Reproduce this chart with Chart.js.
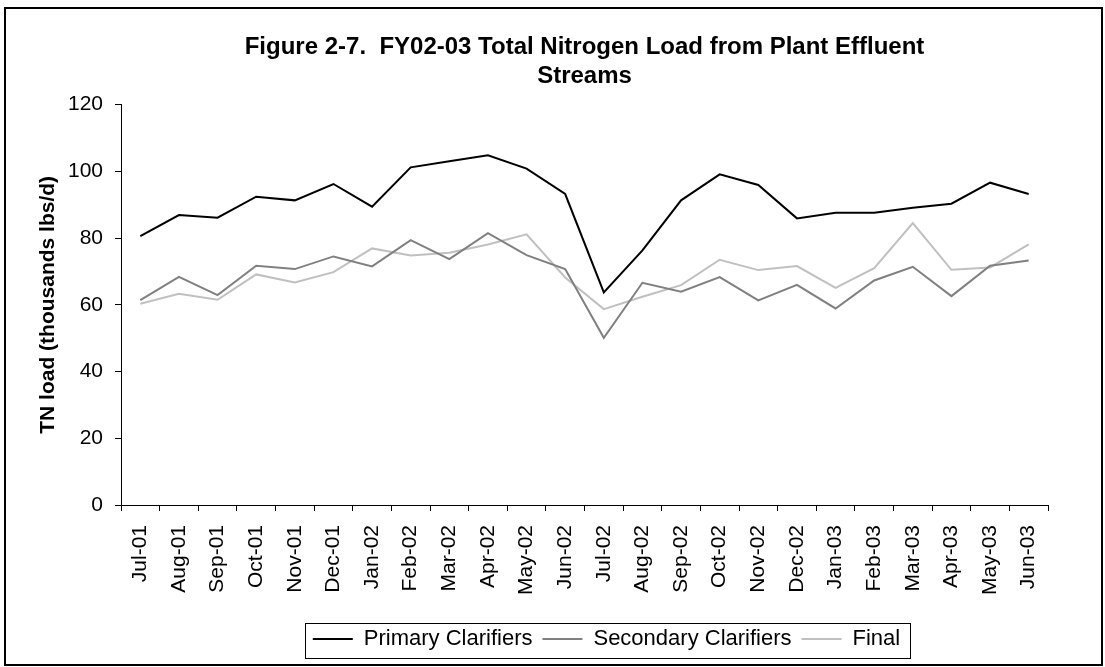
<!DOCTYPE html>
<html>
<head>
<meta charset="utf-8">
<script src="https://cdn.jsdelivr.net/npm/chart.js@4"></script>
<style>
    html, body { margin: 0; padding: 0; background: #fff; }
    #wrap { position: relative; width: 1105px; height: 667px; }
</style>
</head>
<body>
<div id="wrap"><canvas id="chartTN"></canvas></div>
<script>
// Dane — miesiące FY02-03 i obciążenie TN (tys. lbs/d)
const months = ['Jul-01', 'Aug-01', 'Sep-01', 'Oct-01', 'Nov-01', 'Dec-01', 'Jan-02', 'Feb-02', 'Mar-02', 'Apr-02', 'May-02', 'Jun-02',
    'Jul-02', 'Aug-02', 'Sep-02', 'Oct-02', 'Nov-02', 'Dec-02', 'Jan-03', 'Feb-03', 'Mar-03', 'Apr-03', 'May-03', 'Jun-03'];
const primary = [80.6, 86.9, 86.1, 92.4, 91.3, 96.2, 89.4, 101.2, 103.0, 104.8, 100.8, 93.2,
    63.7, 76.3, 91.3, 99.1, 95.9, 85.9, 87.6, 87.6, 89.1, 90.3, 96.6, 93.2];
const secondary = [61.4, 68.4, 62.9, 71.7, 70.7, 74.5, 71.5, 79.4, 73.7, 81.5, 74.9, 70.7,
    50.1, 66.6, 63.9, 68.3, 61.3, 66.0, 58.9, 67.3, 71.4, 62.6, 71.7, 73.3];
const final = [60.3, 63.3, 61.5, 69.1, 66.7, 69.8, 76.9, 74.8, 75.6, 78.1, 81.1, 68.2,
    58.7, 62.4, 65.9, 73.5, 70.4, 71.6, 65.1, 71.0, 84.5, 70.5, 71.2, 78.1];
const yTicks = [0, 20, 40, 60, 80, 100, 120];

const FONT = "'Liberation Sans', Arial, sans-serif";

// Ramka wokół całego wykresu + ramka legendy
const framePlugin = {
    id: 'frame',
    afterLayout(chart) {
        // legenda w oryginale jest lekko przesunięta w prawo
        chart.legend.left += 22;
        chart.legend.right += 22;
    },
    afterDraw(chart) {
        const ctx = chart.ctx;
        ctx.save();
        ctx.strokeStyle = '#000';
        ctx.lineWidth = 2;
        ctx.strokeRect(5, 8, 1097, 657);

        const boxes = chart.legend.legendHitBoxes;
        if (boxes && boxes.length) {
            const first = boxes[0], last = boxes[boxes.length - 1];
            const cy = first.top + first.height / 2;
            ctx.lineWidth = 1;
            ctx.strokeStyle = '#000';
            ctx.strokeRect(Math.round(first.left - 8) + 0.5, Math.round(cy - 16) + 0.5,
                Math.round(last.left + last.width - first.left + 18), 35);
        }
        ctx.restore();
    }
};

new Chart(document.getElementById('chartTN'), {
    type: 'line',
    data: {
        labels: months,
        datasets: [
            { label: 'Primary Clarifiers', data: primary, borderColor: '#000000', backgroundColor: '#000000', borderWidth: 2 },
            { label: 'Secondary Clarifiers', data: secondary, borderColor: '#808080', backgroundColor: '#808080', borderWidth: 2 },
            { label: 'Final', data: final, borderColor: '#c0c0c0', backgroundColor: '#c0c0c0', borderWidth: 2 }
        ]
    },
    options: {
        responsive: true,
        maintainAspectRatio: false,
        animation: false,
        elements: { point: { radius: 0 }, line: { tension: 0 } },
        layout: { padding: { left: 20, right: 57, top: 10, bottom: 7 } },
        plugins: {
            title: {
                display: true,
                fullSize: false,
                text: ['Figure 2-7.  FY02-03 Total Nitrogen Load from Plant Effluent', 'Streams'],
                color: '#000',
                font: { family: FONT, size: 24, weight: 'bold', lineHeight: 1.2 },
                padding: { top: 23, bottom: 14 }
            },
            legend: {
                position: 'bottom',
                fullSize: false,
                labels: {
                    color: '#000',
                    font: { family: FONT, size: 22 },
                    usePointStyle: true,
                    pointStyle: 'line',
                    pointStyleWidth: 40,
                    padding: 10
                }
            },
            tooltip: { enabled: false }
        },
        scales: {
            x: {
                offset: true,
                grid: { offset: true, drawOnChartArea: false, drawTicks: true, tickLength: 6, color: '#000' },
                border: { color: '#000', width: 1 },
                ticks: {
                    color: '#000', autoSkip: false, minRotation: 90, maxRotation: 90, padding: 14,
                    font: { family: FONT, size: 21 }
                },
                afterFit(scale) { scale.height = 113; }
            },
            y: {
                min: 0,
                max: 120,
                afterBuildTicks(scale) { scale.ticks = yTicks.map(v => ({ value: v })); },
                grid: { drawOnChartArea: false, drawTicks: true, tickLength: 6, color: '#000' },
                border: { color: '#000', width: 1 },
                ticks: { color: '#000', padding: 12, font: { family: FONT, size: 21 } },
                title: {
                    display: true,
                    text: 'TN load (thousands lbs/d)',
                    color: '#000',
                    font: { family: FONT, size: 21, weight: 'bold' },
                    padding: { top: 16, bottom: 4 }
                },
                afterFit(scale) { scale.width = 101; }
            }
        }
    },
    plugins: [framePlugin]
});
</script>
</body>
</html>
